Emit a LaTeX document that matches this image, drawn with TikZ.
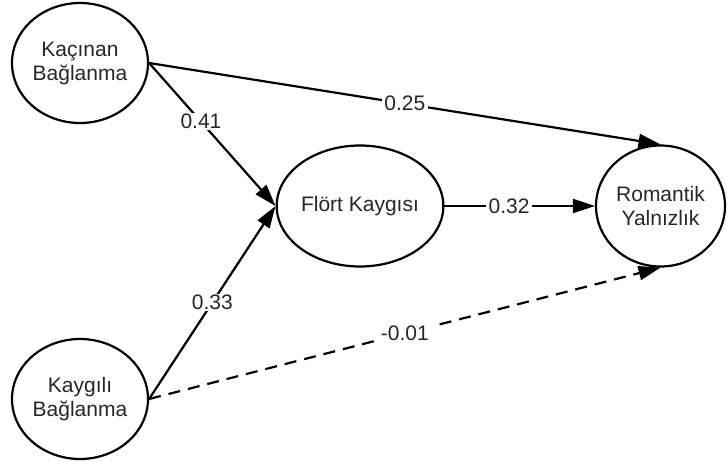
\documentclass[tikz,border=0pt]{standalone}
\usepackage{fontspec}
\setmainfont{Liberation Sans}
\usetikzlibrary{shapes.geometric,arrows.meta}
\begin{document}
\begin{tikzpicture}[x=1pt,y=-1pt,
  latent/.style={draw, ellipse, line width=2.2pt, inner sep=0pt, align=center,
    font=\fontsize{21}{24}\selectfont, text=black!85},
  conn/.style={line width=2.2pt, -{Triangle[length=22pt,width=14pt]}},
  lbl/.style={fill=white, inner xsep=2.5pt, inner ysep=1pt, font=\fontsize{21}{24}\selectfont, text=black!85}]
\useasboundingbox (0,0) rectangle (727,465);
\node[latent, minimum width=136pt, minimum height=120pt] (kac) at (80,63) {Kaçınan\\Bağlanma};
\node[latent, minimum width=136pt, minimum height=120pt] (kay) at (80,399) {Kaygılı\\Bağlanma};
\node[latent, minimum width=134pt, minimum height=121pt] (flo) at (360,206) {Flört Kaygısı};
\node[latent, minimum width=129pt, minimum height=121pt] (rom) at (660.5,206) {Romantik\\Yalnızlık};
\draw[conn] (kac.east) -- node[lbl, pos=0.5] {0.25} (rom.north);
\draw[conn] (kac.east) -- node[lbl, pos=0.41] {0.41} (flo.west);
\draw[conn] (kay.east) -- node[lbl, pos=0.5] {0.33} (flo.west);
\draw[conn, dash pattern=on 12pt off 8pt] (kay.east) -- node[lbl, pos=0.5, inner xsep=7pt] {-0.01} (rom.south);
\draw[conn] (flo.east) -- node[lbl, pos=0.43] {0.32} (rom.west);
\end{tikzpicture}
\end{document}
